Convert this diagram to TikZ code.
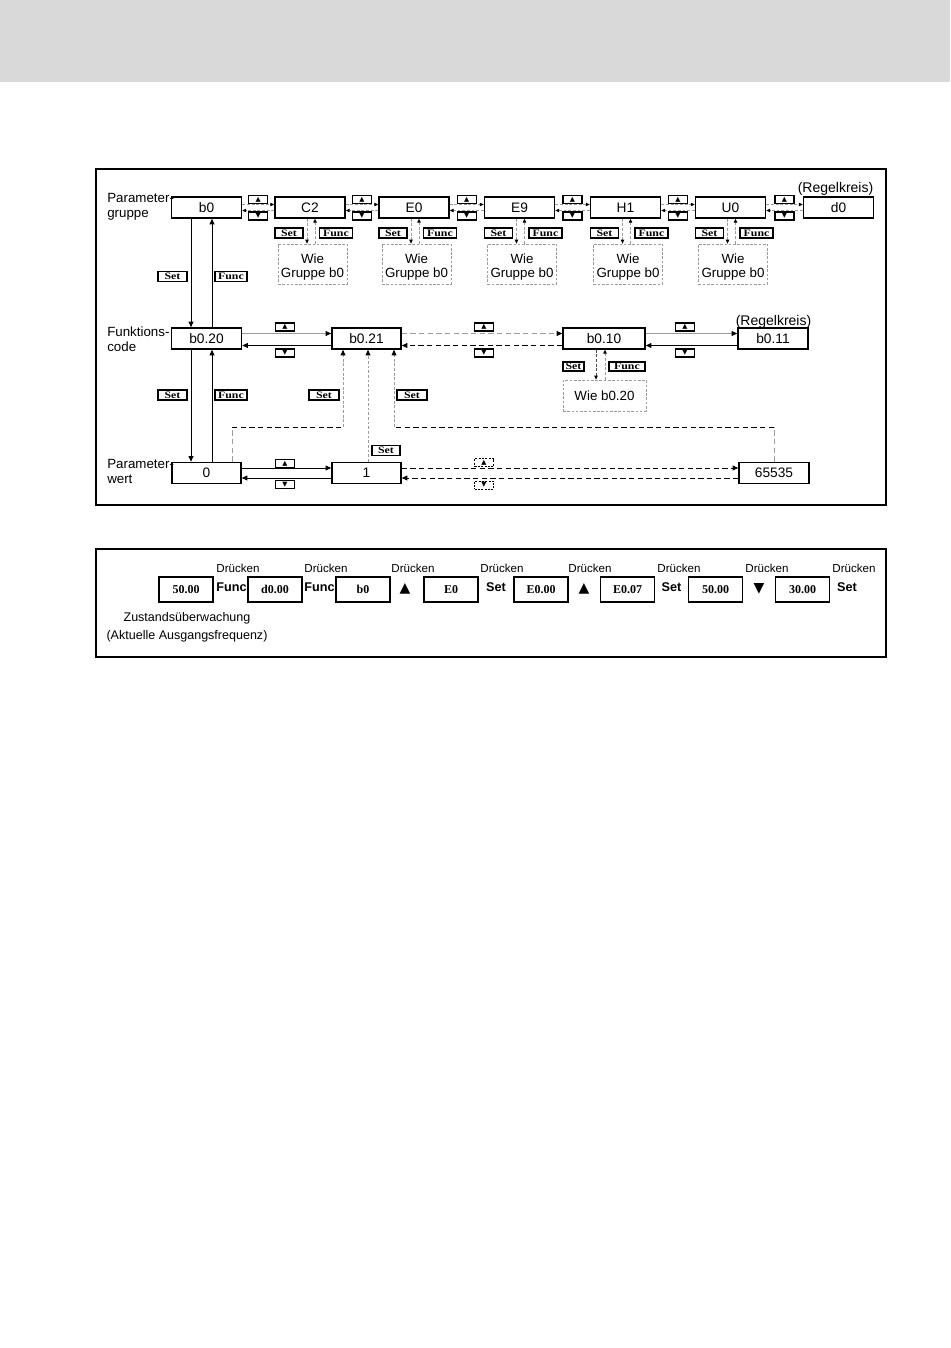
\documentclass[tikz,border=0pt]{standalone}
\usepackage{fontspec}
\setmainfont{Liberation Sans}
\newfontfamily\keyfnt[FakeStretch=1.2]{Liberation Serif}
\newfontfamily\tmsfnt{Liberation Serif}
\newfontfamily\dvsym{DejaVu Sans}
\usetikzlibrary{arrows.meta,calc}
\definecolor{bandgray}{HTML}{D9D9D9}
\definecolor{lgray}{HTML}{9C9C9C}
\begin{document}
\begin{tikzpicture}[x=0.75pt,y=-0.75pt,
  sz/.style 2 args={minimum width=#1*0.75pt,minimum height=#2*0.75pt},
  disp/.style={draw,line width=1.1pt,inner sep=0pt,sz={70}{21},font=\fontsize{10.3}{12}\selectfont},
  keyt/.style={draw,line width=0.9pt,inner sep=0pt,sz={19}{8},font=\dvsym\fontsize{5}{5}\selectfont},
  keyd/.style={keyt,dash pattern=on 1.5pt off 1pt,line width=0.6pt},
  klab/.style={draw,line width=0.9pt,inner sep=0pt,minimum height=10*0.75pt,font=\keyfnt\bfseries\fontsize{7.4}{8}\selectfont},
  same/.style={draw=lgray,dash pattern=on 2pt off 1.2pt,line width=0.5pt,inner sep=0pt,align=center,font=\fontsize{10}{10.5}\selectfont},
  lbl/.style={inner sep=0pt,align=left,anchor=west,font=\fontsize{10}{11.3}\selectfont},
  ttip/.style={-{Triangle[length=3pt,width=2.6pt,color=black]}},
  tip/.style={-{Triangle[length=4.2pt,width=3.6pt,color=black]}},
  gdash/.style={draw=lgray,dash pattern=on 2.2pt off 1.3pt,line width=0.6pt},
  bdash/.style={draw=black,dash pattern=on 4pt off 2.5pt,line width=0.7pt},
  gsolid/.style={draw=lgray,line width=0.7pt},
  bsolid/.style={draw=black,line width=0.7pt},
  pbox/.style={draw,line width=1pt,inner sep=0pt,sz={54}{25},font=\tmsfnt\bfseries\fontsize{9}{10}\selectfont},
  plab/.style={inner sep=0pt,font=\bfseries\fontsize{9.5}{10}\selectfont},
  ptri/.style={inner sep=0pt,font=\dvsym\fontsize{10.5}{11}\selectfont},
  pdr/.style={inner sep=0pt,font=\fontsize{8.7}{10}\selectfont},
]
\useasboundingbox (0,0) rectangle (950,1348);
\fill[bandgray] (0,0) rectangle (950,82);
\draw[line width=0.8pt] (96,169) rectangle (886,505);
\draw[line width=0.8pt] (96,549) rectangle (886,657);

% ---------- top row ----------
\node[lbl] (lpg) at (107,207) {Parameter-\\gruppe};
\node[disp] (b0) at (206.5,207.5) {b0};
\node[disp] (C2) at (310,207.5) {C2};
\node[disp] (E0) at (414,207.5) {E0};
\node[disp] (E9) at (519.5,207.5) {E9};
\node[disp] (H1) at (625.5,207.5) {H1};
\node[disp] (U0) at (730.5,207.5) {U0};
\node[disp] (d0) at (838.5,207.5) {d0};
\node[inner sep=0pt,font=\fontsize{10.5}{12}\selectfont] (rk1) at (835.5,188.5) {(Regelkreis)};

\foreach \a/\b in {b0/C2,C2/E0,E0/E9,E9/H1,H1/U0,U0/d0}{
  \draw[gdash,ttip] ($(\a.east)+(0,-3)$) -- ($(\b.west)+(0,-3)$);
  \draw[gdash,ttip] ($(\b.west)+(0,3)$) -- ($(\a.east)+(0,3)$);
  \node[keyt] (ku\a) at ($(\a.east)!0.5!(\b.west)+(0,-8)$) {▲};
  \node[keyt] (kd\a) at ($(\a.east)!0.5!(\b.west)+(0,8.5)$) {▼};
}
\foreach \n in {C2,E0,E9,H1,U0}{
  \node[klab,sz={28}{10}] (s\n) at ($(\n)+(-21,25.5)$) {Set};
  \node[klab,sz={33}{10}] (f\n) at ($(\n)+(26,25.5)$) {Func};
  \node[same,sz={69}{40}] (w\n) at ($(\n)+(2.5,56.5)$) {\rule{0pt}{11.5pt}Wie\\Gruppe b0};
  \draw[gdash,ttip] ($(\n.south)+(-3,0)$) -- ($(w\n.north)+(-5.5,0)$);
  \draw[gdash,ttip] ($(w\n.north)+(2.5,0)$) -- ($(\n.south)+(5,0)$);
}

% ---------- middle row ----------
\node[lbl] (lfc) at (107,339) {Funktions-\\code};
\node[disp] (b020) at (206.5,338.5) {b0.20};
\node[disp,sz={69}{21}] (b021) at (366.5,338.5) {b0.21};
\node[disp,sz={82}{21}] (b010) at (604,338.5) {b0.10};
\node[disp] (b011) at (773,338.5) {b0.11};
\node[inner sep=0pt,font=\fontsize{10.5}{12}\selectfont] (rk2) at (773.5,322) {(Regelkreis)};

\draw[gsolid,tip] ($(b020.east)+(0,-5)$) -- ($(b021.west)+(0,-5)$);
\draw[bsolid,tip] ($(b021.west)+(0,7)$) -- ($(b020.east)+(0,7)$);
\draw[gdash,tip,dash pattern=on 4pt off 2.5pt] ($(b021.east)+(0,-5)$) -- ($(b010.west)+(0,-5)$);
\draw[bdash,tip] ($(b010.west)+(0,7)$) -- ($(b021.east)+(0,7)$);
\draw[gsolid,tip] ($(b010.east)+(0,-5)$) -- ($(b011.west)+(0,-5)$);
\draw[bsolid,tip] ($(b011.west)+(0,7)$) -- ($(b010.east)+(0,7)$);
\node[keyt] (kum1) at (285,327) {▲};
\node[keyt] (kdm1) at (285,353) {▼};
\node[keyt] (kum2) at (484,327) {▲};
\node[keyt] (kdm2) at (484,353) {▼};
\node[keyt] (kum3) at (685,327) {▲};
\node[keyt] (kdm3) at (685,353) {▼};

% b0 <-> b0.20
\draw[bsolid,tip] ($(b0.south)+(-15.5,0)$) -- ($(b020.north)+(-15.5,0)$);
\draw[bsolid,tip] ($(b020.north)+(5.5,0)$) -- ($(b0.south)+(5.5,0)$);
\node[klab,sz={29}{10}] (sv1) at (172.5,276.5) {Set};
\node[klab,sz={32}{10}] (fv1) at (231,276.5) {Func};

% b0.10 detail
\node[klab,sz={21}{9}] (s10) at (573.5,366.5) {Set};
\node[klab,sz={36}{9}] (f10) at (627,366.5) {Func};
\node[same,sz={83}{31}] (w10) at (604.5,395.5) {Wie b0.20};
\draw[gdash,ttip,draw=black!70] ($(b010.south)+(-8,0)$) -- ($(w10.north)+(-8.5,0)$);
\draw[gdash,ttip] ($(w10.north)+(0.5,0)$) -- ($(b010.south)+(1,0)$);

% ---------- bottom row ----------
\node[lbl] (lpw) at (107,471.5) {Parameter-\\wert};
\node[disp,sz={69}{21}] (zero) at (206.5,473) {0};
\node[disp,sz={69}{21}] (one) at (366.5,473) {1};
\node[disp] (six) at (774,473) {65535};

\draw[bsolid,tip] ($(zero.east)+(0,-5)$) -- ($(one.west)+(0,-5)$);
\draw[bsolid,tip] ($(one.west)+(0,5)$) -- ($(zero.east)+(0,5)$);
\draw[bdash,tip] ($(one.east)+(0,-5)$) -- ($(six.west)+(0,-5)$);
\draw[bdash,tip] ($(six.west)+(0,5)$) -- ($(one.east)+(0,5)$);
\node[keyt] (kub1) at (285,463.5) {▲};
\node[keyt] (kdb1) at (285,484.5) {▼};
\node[keyd] (kub2) at (484,462.5) {▲};
\node[keyd] (kdb2) at (484,485) {▼};

% b0.20 <-> 0
\draw[bsolid,tip] ($(b020.south)+(-15.5,0)$) -- ($(zero.north)+(-15.5,0)$);
\draw[bsolid,tip] ($(zero.north)+(5.5,0)$) -- ($(b020.south)+(5.5,0)$);
\node[klab,sz={29}{10}] (sv2) at (172.5,395) {Set};
\node[klab,sz={32}{10}] (fv2) at (231,395) {Func};

% Set paths into b0.21
\coordinate (jl) at (232,427);
\coordinate (jm) at (343,427);
\coordinate (jc) at (368,427);
\coordinate (jr) at (394,427);
\coordinate (jf) at (774,427);
\draw[gdash,dash pattern=on 4pt off 2.5pt] (zero.north -| jl) -- (jl);
\draw[bdash] (jl) -- (jm);
\draw[gdash,tip] (jm) -- (jm |- b021.south);
\draw[gdash,tip] (one.north -| jc) -- (jc |- b021.south);
\draw[gdash,dash pattern=on 4pt off 2.5pt] (six.north -| jf) -- (jf);
\draw[bdash] (jf) -- (jr);
\draw[gdash,tip] (jr) -- (jr |- b021.south);
\node[klab,sz={30}{10}] (sm1) at (324,395) {Set};
\node[klab,sz={30}{10}] (sm2) at (412,395) {Set};
\node[klab,sz={28}{10}] (sm3) at (386,450.5) {Set};

% ---------- bottom panel ----------
\node[pbox] (p1) at (186,589.5) {50.00};
\node[pbox] (p2) at (275,589.5) {d0.00};
\node[pbox] (p3) at (363,589.5) {b0};
\node[pbox] (p4) at (451,589.5) {E0};
\node[pbox] (p5) at (541,589.5) {E0.00};
\node[pbox] (p6) at (627.5,589.5) {E0.07};
\node[pbox] (p7) at (715.5,589.5) {50.00};
\node[pbox] (p8) at (802.5,589.5) {30.00};
\node[plab] (k1) at (231.5,587) {Func};
\node[plab] (k2) at (319.5,587) {Func};
\node[ptri] (k3) at (405,589) {▲};
\node[plab] (k4) at (496,587) {Set};
\node[ptri] (k5) at (584,589) {▲};
\node[plab] (k6) at (671.5,587) {Set};
\node[ptri] (k7) at (759,589) {▼};
\node[plab] (k8) at (847,587) {Set};
\foreach \i/\x in {1/238,2/326,3/413,4/502,5/590,6/679,7/767,8/854}{
  \node[pdr] (dr\i) at (\x,568) {Drücken};
}
\node[inner sep=0pt,align=center,font=\fontsize{9.4}{13.5}\selectfont] (zst) at (187,627) {Zustandsüberwachung\\(Aktuelle Ausgangsfrequenz)};
\end{tikzpicture}
\end{document}
